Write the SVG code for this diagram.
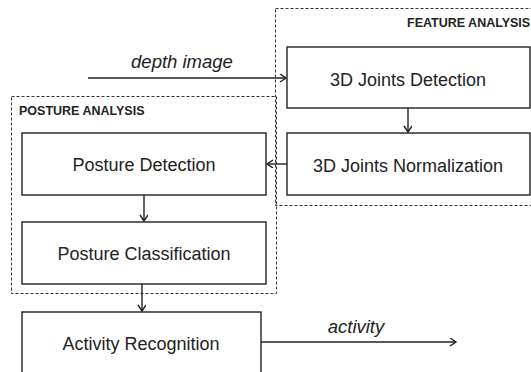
<svg xmlns="http://www.w3.org/2000/svg" width="531" height="372" viewBox="0 0 531 372">
<style>
.box{fill:#fff;stroke:#222;stroke-width:1.4}
.grp{fill:none;stroke:#333;stroke-width:1;stroke-dasharray:3,2}
.lbl{font-family:"Liberation Sans",Arial,sans-serif;font-size:18px;fill:#222;text-anchor:middle}
.ttl{font-family:"Liberation Sans",Arial,sans-serif;font-size:12.5px;font-weight:bold;fill:#222}
.it{font-family:"Liberation Sans",Arial,sans-serif;font-size:18.5px;font-style:italic;fill:#222;text-anchor:middle}
.edge{fill:none;stroke:#222;stroke-width:1.4}
</style>
<defs>
<marker id="arr" markerWidth="10" markerHeight="10" refX="7" refY="4" orient="auto" markerUnits="userSpaceOnUse">
<path d="M1,0 L7,4 L1,8" fill="none" stroke="#222" stroke-width="1.4"/>
</marker>
</defs>
<rect width="531" height="372" fill="#fff"/>
<g id="feature-analysis">
<rect class="grp" x="275.5" y="8.5" width="270" height="197"/>
<text class="ttl" x="407" y="27">FEATURE ANALYSIS</text>
</g>
<g id="posture-analysis">
<rect class="grp" x="11.5" y="96.5" width="265" height="197"/>
<text class="ttl" x="19" y="115">POSTURE ANALYSIS</text>
</g>
<g id="joints-detection">
<rect class="box" x="287" y="47" width="243" height="61"/>
<text class="lbl" x="408" y="86">3D Joints Detection</text>
</g>
<g id="joints-normalization">
<rect class="box" x="287" y="133" width="243" height="62"/>
<text class="lbl" x="408" y="172">3D Joints Normalization</text>
</g>
<g id="posture-detection">
<rect class="box" x="22" y="133" width="244" height="62"/>
<text class="lbl" x="144" y="171">Posture Detection</text>
</g>
<g id="posture-classification">
<rect class="box" x="22" y="222" width="244" height="62"/>
<text class="lbl" x="144" y="260">Posture Classification</text>
</g>
<g id="activity-recognition">
<rect class="box" x="22" y="312" width="239" height="70"/>
<text class="lbl" x="141" y="350">Activity Recognition</text>
</g>
<g id="connectors">
<path class="edge" d="M88,78 H286" marker-end="url(#arr)"/>
<text class="it" x="182" y="68">depth image</text>
<path class="edge" d="M408,108 V132" marker-end="url(#arr)"/>
<path class="edge" d="M287,164 H267" marker-end="url(#arr)"/>
<path class="edge" d="M144,195 V221" marker-end="url(#arr)"/>
<path class="edge" d="M142,284 V311" marker-end="url(#arr)"/>
<path class="edge" d="M261,342 H456" marker-end="url(#arr)"/>
<text class="it" x="356" y="333">activity</text>
</g>
</svg>
